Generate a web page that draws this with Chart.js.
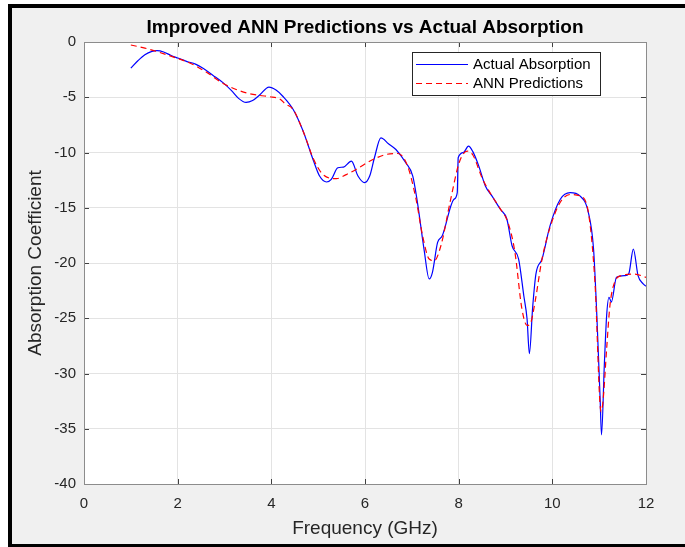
<!DOCTYPE html>
<html>
<head>
<meta charset="utf-8">
<script src="https://cdn.jsdelivr.net/npm/chart.js@4/dist/chart.umd.min.js"></script>
<style>
  html, body { margin: 0; padding: 0; background: #fff; }
  #frame {
    position: absolute; left: 8px; top: 4px; width: 677px; height: 543px;
    box-sizing: border-box; background: #f0f0f0;
    border-left: 4px solid #000; border-top: 4px solid #000; border-bottom: 3px solid #000;
  }
  #wrap { position: absolute; left: 0; top: 0; width: 685px; height: 547px; }
</style>
</head>
<body>
<div id="frame"></div>
<div id="wrap"><canvas id="absChart" width="685" height="547"></canvas></div>
<script>
// Actual absorption (GHz, coefficient)
const freqActual = [1.00, 1.15, 1.30, 1.45, 1.56, 1.70, 1.85, 2.00, 2.20, 2.38, 2.55, 2.75, 2.98, 3.15, 3.30, 3.46, 3.60, 3.75, 3.95,
  4.10, 4.25, 4.47, 4.68, 4.89, 5.03, 5.18, 5.28, 5.42, 5.54, 5.71, 5.85, 5.99, 6.10, 6.20, 6.34, 6.50, 6.66, 6.87,
  7.02, 7.12, 7.26, 7.37, 7.44, 7.55, 7.65, 7.90, 7.97, 7.99, 8.10, 8.21, 8.30, 8.43, 8.57, 8.71, 8.89, 9.03, 9.14,
  9.28, 9.39, 9.46, 9.51, 9.58, 9.65, 9.78, 9.95, 10.17, 10.38, 10.59, 10.77, 10.88, 10.95, 11.02, 11.05, 11.11,
  11.16, 11.21, 11.26, 11.37, 11.55, 11.63, 11.73, 11.83, 11.94, 12.00];
const absActual = [-2.37, -1.70, -1.15, -0.85, -0.78, -0.90, -1.20, -1.45, -1.77, -2.00, -2.40, -3.00, -3.72, -4.40, -5.10, -5.47, -5.30, -4.80, -4.08,
  -4.35, -4.93, -6.13, -8.08, -10.63, -12.13, -12.67, -12.43, -11.38, -11.32, -10.78, -12.13, -12.73, -12.13, -10.50, -8.68, -9.20, -9.73, -10.93,
  -12.13, -14.53, -18.74, -21.44, -20.84, -18.14, -17.54, -14.23, -13.63, -10.48, -10.00, -9.43, -9.90, -11.23, -13.03, -13.93, -15.14, -16.04, -18.44,
  -19.64, -22.94, -25.05, -28.20, -24.00, -20.99, -19.64, -16.64, -14.23, -13.63, -13.93, -15.44, -18.74, -24.74, -32.25, -35.55, -29.25,
  -24.74, -23.10, -23.54, -21.29, -21.14, -20.99, -18.74, -21.14, -21.89, -22.10];

// ANN predictions
const freqPred = [1.00, 1.30, 1.56, 1.90, 2.27, 2.60, 2.98, 3.25, 3.48, 3.76, 3.97, 4.18, 4.30, 4.47, 4.70, 4.89, 5.10, 5.39, 5.60,
  5.81, 6.17, 6.45, 6.70, 6.91, 7.09, 7.23, 7.37, 7.48, 7.62, 7.83, 8.01, 8.18, 8.30, 8.50, 8.71, 8.89, 9.05, 9.20,
  9.35, 9.46, 9.53, 9.63, 9.78, 9.95, 10.17, 10.38, 10.59, 10.77, 10.91, 11.04, 11.08, 11.16, 11.23, 11.33, 11.48, 11.76, 12.00];
const absPred = [-0.27, -0.55, -0.87, -1.35, -1.92, -2.70, -3.77, -4.30, -4.62, -4.84, -4.95, -5.16, -5.60, -6.13, -8.30, -10.50, -11.98, -12.37, -12.00,
  -11.53, -10.63, -10.18, -10.09, -11.23, -14.23, -17.54, -19.64, -19.79, -18.44, -14.23, -10.93, -9.88, -10.20, -12.30, -13.93, -15.10, -16.30, -19.00,
  -24.14, -25.65, -25.50, -23.54, -19.64, -16.80, -14.50, -13.80, -13.93, -15.44, -21.74, -33.45, -32.60, -27.75, -23.84, -21.74, -21.14, -21.00, -21.30];

const xTicks = [0, 2, 4, 6, 8, 10, 12];
const yTicks = [0, -5, -10, -15, -20, -25, -30, -35, -40];
const seriesNames = ['Actual Absorption', 'ANN Predictions'];

const FONT = '"Liberation Sans", Arial, Helvetica, sans-serif';

// white plot area, box and inward ticks like MATLAB
const axesBox = {
  id: 'axesBox',
  beforeDraw(chart) {
    const a = chart.chartArea, ctx = chart.ctx;
    ctx.save();
    ctx.fillStyle = '#fff';
    ctx.fillRect(a.left, a.top, a.right - a.left, a.bottom - a.top);
    ctx.restore();
  },
  afterDatasetsDraw(chart) {
    const a = chart.chartArea, ctx = chart.ctx;
    const xs = chart.scales.x, ys = chart.scales.y;
    ctx.save();
    ctx.strokeStyle = '#404040';
    ctx.lineWidth = 1;
    ctx.beginPath();
    xTicks.forEach(v => {
      const px = Math.round(xs.getPixelForValue(v)) + 0.5;
      ctx.moveTo(px, a.bottom); ctx.lineTo(px, a.bottom - 5);
      ctx.moveTo(px, a.top); ctx.lineTo(px, a.top + 5);
    });
    yTicks.forEach(v => {
      const py = Math.round(ys.getPixelForValue(v)) + 0.5;
      ctx.moveTo(a.left, py); ctx.lineTo(a.left + 5, py);
      ctx.moveTo(a.right, py); ctx.lineTo(a.right - 5, py);
    });
    ctx.stroke();
    ctx.strokeStyle = '#8c8c8c';
    ctx.strokeRect(Math.round(a.left) + 0.5, Math.round(a.top) + 0.5,
      Math.round(a.right - a.left), Math.round(a.bottom - a.top));

    // legend
    const lx = 412, ly = 52, lw = 188, lh = 43;
    ctx.fillStyle = '#fff';
    ctx.fillRect(lx, ly, lw, lh);
    ctx.strokeStyle = '#262626';
    ctx.strokeRect(lx + 0.5, ly + 0.5, lw, lh);
    ctx.lineWidth = 1.2;
    ctx.strokeStyle = 'rgb(0,0,255)';
    ctx.beginPath(); ctx.moveTo(416, 64.5); ctx.lineTo(468, 64.5); ctx.stroke();
    ctx.strokeStyle = 'rgb(255,0,0)';
    ctx.setLineDash([6, 4]);
    ctx.beginPath(); ctx.moveTo(416, 83.5); ctx.lineTo(468, 83.5); ctx.stroke();
    ctx.setLineDash([]);
    ctx.fillStyle = '#000';
    ctx.font = '15px ' + FONT;
    ctx.textBaseline = 'middle';
    ctx.textAlign = 'left';
    ctx.fillText(seriesNames[0], 473, 65);
    ctx.fillText(seriesNames[1], 473, 84);
    ctx.restore();
  }
};

const ctx = document.getElementById('absChart').getContext('2d');
const absChart = new Chart(ctx, {
  type: 'line',
  data: {
    datasets: [{
      label: seriesNames[0],
      data: freqActual.map((f, i) => ({ x: f, y: absActual[i] })),
      borderColor: 'rgb(0,0,255)',
      borderWidth: 1.2,
      pointRadius: 0,
      cubicInterpolationMode: 'monotone',
      order: 2
    }, {
      label: seriesNames[1],
      data: freqPred.map((f, i) => ({ x: f, y: absPred[i] })),
      borderColor: 'rgb(255,0,0)',
      borderWidth: 1.2,
      borderDash: [6, 4],
      pointRadius: 0,
      cubicInterpolationMode: 'monotone',
      order: 1
    }]
  },
  options: {
    responsive: false,
    animation: false,
    events: [],
    layout: { padding: { left: 0, top: 0, right: 39, bottom: 0 } },
    plugins: {
      legend: { display: false },
      tooltip: { enabled: false },
      title: {
        display: true,
        text: 'Improved ANN Predictions vs Actual Absorption',
        fullSize: false,
        color: '#000',
        font: { family: FONT, size: 19, weight: 'bold' },
        padding: { top: 16.6, bottom: 2.6 }
      }
    },
    scales: {
      x: {
        type: 'linear',
        min: 0, max: 12,
        afterBuildTicks: s => { s.ticks = xTicks.map(v => ({ value: v })); },
        afterFit: s => { s.height = 63; },
        ticks: { color: '#262626', font: { family: FONT, size: 15 }, padding: 11, maxRotation: 0 },
        grid: { color: '#e3e3e3', drawTicks: false },
        border: { display: false },
        title: {
          display: true, text: 'Frequency (GHz)', color: '#262626',
          font: { family: FONT, size: 19 }, padding: { top: 0, bottom: 6.6 }
        }
      },
      y: {
        type: 'linear',
        min: -40, max: 0,
        afterBuildTicks: s => { s.ticks = yTicks.map(v => ({ value: v })); },
        afterFit: s => { s.width = 84; },
        ticks: { color: '#262626', font: { family: FONT, size: 15 }, padding: 8 },
        grid: { color: '#e3e3e3', drawTicks: false },
        border: { display: false },
        title: {
          display: true, text: 'Absorption Coefficient', color: '#262626',
          font: { family: FONT, size: 19 }, padding: { top: 24.6, bottom: 0 }
        }
      }
    }
  },
  plugins: [axesBox]
});
</script>
</body>
</html>
